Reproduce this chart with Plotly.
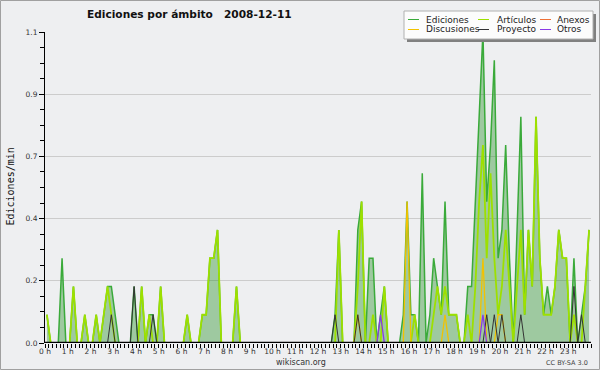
import plotly.graph_objects as go

# ---- data: edits per minute, one value per 10-minute bin (6 per hour) ----
hour_labels = [f"{h} h" for h in range(24)]

ediciones = [
    0.1, 0, 0, 0, 0.3, 0,        # 0 h
    0, 0.2, 0, 0, 0.1, 0,        # 1 h
    0, 0.1, 0, 0.1, 0.2, 0.2,    # 2 h
    0.1, 0, 0, 0, 0, 0.2,        # 3 h
    0, 0.2, 0, 0.1, 0.1, 0,      # 4 h
    0.2, 0, 0, 0, 0, 0,          # 5 h
    0, 0.1, 0, 0, 0, 0.1,        # 6 h
    0.1, 0.3, 0.3, 0.4, 0, 0,    # 7 h
    0, 0, 0.2, 0, 0, 0,          # 8 h
    0, 0, 0, 0, 0, 0,            # 9 h
    0, 0, 0, 0, 0, 0,            # 10 h
    0, 0, 0, 0, 0, 0,            # 11 h
    0, 0, 0, 0, 0.1, 0.4,        # 12 h
    0, 0, 0, 0, 0.4, 0.5,        # 13 h
    0, 0.3, 0.3, 0, 0.1, 0.2,    # 14 h
    0, 0, 0, 0, 0.1, 0.5,        # 15 h
    0.1, 0.1, 0, 0.6, 0, 0.1,    # 16 h
    0.3, 0.2, 0.1, 0.5, 0.1, 0.1,  # 17 h
    0.1, 0, 0, 0.2, 0.2, 0.5,    # 18 h
    0.8, 1.1, 0.5, 0.7, 1.0, 0.3,  # 19 h
    0.4, 0.7, 0.3, 0, 0.4, 0.8,  # 20 h
    0.1, 0.4, 0.2, 0.8, 0.3, 0.1,  # 21 h
    0.2, 0.1, 0.2, 0.4, 0.3, 0.3,  # 22 h
    0, 0.3, 0, 0.1, 0.2, 0.4,    # 23 h
]

articulos = [
    0.1, 0, 0, 0, 0, 0,
    0, 0.2, 0, 0, 0.1, 0,
    0, 0.1, 0, 0.1, 0.2, 0.1,
    0, 0, 0, 0, 0, 0,
    0, 0.2, 0, 0.1, 0, 0,
    0.2, 0, 0, 0, 0, 0,
    0, 0.1, 0, 0, 0, 0.1,
    0.1, 0.3, 0.3, 0.4, 0, 0,
    0, 0, 0.2, 0, 0, 0,
    0, 0, 0, 0, 0, 0,
    0, 0, 0, 0, 0, 0,
    0, 0, 0, 0, 0, 0,
    0, 0, 0, 0, 0, 0.4,
    0, 0, 0, 0, 0.2, 0.5,
    0, 0, 0.1, 0, 0, 0.2,
    0, 0, 0, 0, 0, 0,
    0, 0.1, 0, 0, 0, 0,
    0.1, 0.2, 0.1, 0.2, 0.1, 0.1,
    0.1, 0, 0, 0.1, 0, 0.2,
    0.5, 0.7, 0.3, 0.6, 0.3, 0.1,
    0.2, 0.4, 0.2, 0, 0.2, 0.4,
    0.1, 0.4, 0.2, 0.8, 0.3, 0.1,
    0.1, 0.1, 0.2, 0.4, 0.3, 0.3,
    0, 0.1, 0, 0, 0.2, 0.4,
]

anexos = [0] * 144

discusiones = [0] * 144
discusiones[82] = 0.1
discusiones[95] = 0.5
discusiones[105] = 0.1
discusiones[115] = 0.3
discusiones[119] = 0.1
discusiones[120] = 0.1

proyecto = [0] * 144
for i, v in {17: 0.1, 23: 0.2, 28: 0.1, 76: 0.1, 82: 0.1, 116: 0.1,
             118: 0.1, 120: 0.1, 125: 0.1, 139: 0.2, 141: 0.1}.items():
    proyecto[i] = v

otros = [0] * 144
otros[88] = 0.1
otros[115] = 0.1

y_tickvals = [0, 0.22, 0.44, 0.66, 0.88, 1.1]
y_ticktext = ["0.0", "0.2", "0.4", "0.7", "0.9", "1.1"]

# bin centres in hours
x = [(i + 0.5) / 6 for i in range(144)]

# ---- layout geometry (pixels) ----
W, H = 600, 370
L, R, T, B = 45, 9, 32, 27
PW, PH = W - L - R, H - T - B


def px(xp):
    return (xp - L) / PW


def py(yp):
    return (H - B - yp) / PH


C_ED = "#3aaa3a"
C_ART = "#9de000"
C_ANX = "#ee7036"
C_DIS = "#f2c200"
C_PRO = "#333333"
C_OTR = "#8a3ae6"

fig = go.Figure()
fig.add_trace(go.Scatter(x=x, y=ediciones, mode="lines", name="Ediciones",
                         line=dict(color=C_ED, width=1.5), fill="tozeroy",
                         fillcolor="rgba(30,140,30,0.38)"))
fig.add_trace(go.Scatter(x=x, y=articulos, mode="lines", name="Artículos",
                         line=dict(color=C_ART, width=1.8)))
fig.add_trace(go.Scatter(x=x, y=anexos, mode="lines", name="Anexos",
                         line=dict(color=C_ANX, width=1)))
fig.add_trace(go.Scatter(x=x, y=discusiones, mode="lines", name="Discusiones",
                         line=dict(color=C_DIS, width=1.3)))
fig.add_trace(go.Scatter(x=x, y=proyecto, mode="lines", name="Proyecto",
                         line=dict(color=C_PRO, width=1)))
fig.add_trace(go.Scatter(x=x, y=otros, mode="lines", name="Otros",
                         line=dict(color=C_OTR, width=1.3)))

tickfont = dict(family="DejaVu Sans", size=7.5, color="#333333")

fig.update_layout(
    width=W, height=H, autosize=False,
    margin=dict(l=L, r=R, t=T, b=B, pad=0),
    paper_bgcolor="#eeeff1", plot_bgcolor="#eeeff1",
    showlegend=False,
    xaxis=dict(range=[0, 24], showgrid=False, zeroline=False,
               showline=False,
               ticks="outside", ticklen=4, tickcolor="black", tickwidth=1,
               tickmode="array", tickvals=list(range(24)), ticktext=hour_labels,
               tickfont=tickfont, ticklabelstandoff=-3,
               minor=dict(tickmode="linear", tick0=0, dtick=1 / 6,
                          ticks="outside", ticklen=4, tickcolor="black",
                          showgrid=False)),
    yaxis=dict(range=[0, 1.1], zeroline=False,
               showline=True, linecolor="black", linewidth=1,
               ticks="outside", ticklen=5, tickcolor="black",
               tickmode="array", tickvals=y_tickvals, ticktext=y_ticktext,
               tickfont=tickfont, showgrid=True, gridcolor="#cccccc", gridwidth=1,
               minor=dict(tickmode="linear", tick0=0, dtick=0.055,
                          ticks="outside", ticklen=4, tickcolor="black",
                          showgrid=False)),
)

shapes = []
annotations = []

# bottom axis line drawn over the zero level of the series
shapes.append(dict(type="line", xref="paper", yref="y", x0=0, x1=1, y0=0, y1=0,
                   line=dict(color="black", width=2.5), layer="above"))

# outer border of the image
shapes.append(dict(type="rect", xref="paper", yref="paper",
                   x0=px(0.5), x1=px(599.5), y0=py(369.5), y1=py(0.5),
                   line=dict(color="#a0a0a0", width=1), layer="above"))

# legend box (shadow + box)
shapes.append(dict(type="rect", xref="paper", yref="paper",
                   x0=px(407), x1=px(596), y0=py(42), y1=py(14),
                   fillcolor="#808080", line=dict(width=0), layer="above"))
shapes.append(dict(type="rect", xref="paper", yref="paper",
                   x0=px(404), x1=px(593), y0=py(39), y1=py(11),
                   fillcolor="#fcfcfc", line=dict(color="#b0b0b0", width=1),
                   layer="above"))

legend_items = [
    ("Ediciones", C_ED, 408, 419, 424, 19.5),
    ("Artículos", C_ART, 478, 489, 495, 19.5),
    ("Anexos", C_ANX, 540, 551, 555, 19.5),
    ("Discusiones", C_DIS, 408, 419, 424, 29.5),
    ("Proyecto", C_PRO, 478, 489, 495, 29.5),
    ("Otros", C_OTR, 540, 551, 555, 29.5),
]
for name, col, lx0, lx1, tx, yy in legend_items:
    shapes.append(dict(type="line", xref="paper", yref="paper",
                       x0=px(lx0), x1=px(lx1), y0=py(yy), y1=py(yy),
                       line=dict(color=col, width=1), layer="above"))
    annotations.append(dict(text=name, xref="paper", yref="paper",
                            x=px(tx), y=py(yy), xanchor="left", yanchor="middle",
                            showarrow=False,
                            font=dict(family="DejaVu Sans", size=9, color="#222222")))

# title
annotations.append(dict(text="<b>Ediciones por ámbito   2008-12-11</b>",
                        xref="paper", yref="paper", x=px(85), y=py(14),
                        xanchor="left", yanchor="middle", showarrow=False,
                        font=dict(family="DejaVu Sans", size=10.6, color="#111111")))
# y axis title
annotations.append(dict(text="Ediciones/min", xref="paper", yref="paper",
                        x=px(9.5), y=py(187), textangle=-90,
                        xanchor="center", yanchor="middle", showarrow=False,
                        font=dict(family="DejaVu Sans Mono", size=10, color="#111111")))
# footer texts
annotations.append(dict(text="wikiscan.org", xref="paper", yref="paper",
                        x=px(300.5), y=py(362), xanchor="center", yanchor="middle",
                        showarrow=False,
                        font=dict(family="DejaVu Sans", size=8, color="#333333")))
annotations.append(dict(text="CC BY-SA 3.0", xref="paper", yref="paper",
                        x=px(590), y=py(362.5), xanchor="right", yanchor="middle",
                        showarrow=False,
                        font=dict(family="DejaVu Sans", size=6.5, color="#444444")))

fig.update_layout(shapes=shapes, annotations=annotations)

fig.write_html("out.html", config={"displayModeBar": False},
               post_script="document.body.style.margin='0';document.body.style.padding='0';")
